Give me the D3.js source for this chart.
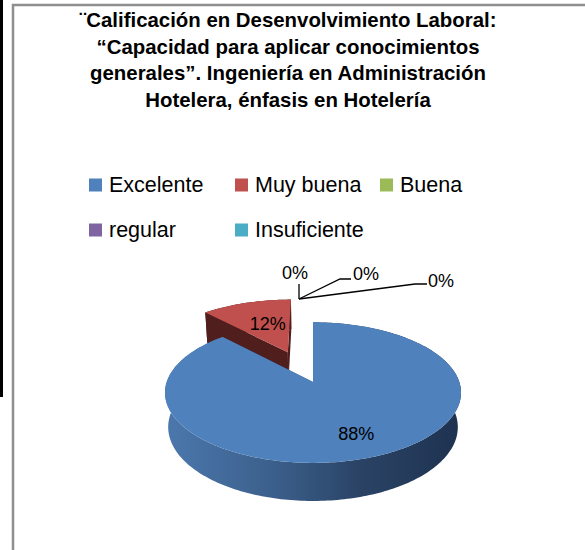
<!DOCTYPE html>
<html>
<head>
<meta charset="utf-8">
<script src="https://cdnjs.cloudflare.com/ajax/libs/d3/7.8.5/d3.min.js"></script>
<style>
  body { margin: 0; background: #fff; }
  svg { display: block; font-family: "Liberation Sans", Arial, sans-serif; }
</style>
</head>
<body>
<script>
const titleLines = [
    "¨Calificación en Desenvolvimiento Laboral:",
    "“Capacidad para aplicar conocimientos",
    "generales”. Ingeniería en Administración",
    "Hotelera, énfasis en Hotelería"
];
const categories = ["Excelente", "Muy buena", "Buena", "regular", "Insuficiente"];
const values = [88, 12, 0, 0, 0];
const topColors = ["#4F81BD", "#C0504D", "#9BBB59", "#8064A2", "#4BACC6"];
const wallColors = ["#2f4f78", "#4f1e1d", "#5d7035", "#4d3c61", "#2d6777"];
const explode = [0, 0.5, 0, 0, 0];

let width = 585, height = 550;

let svg = d3.select("body")
    .append("svg")
    .attr("width", width)
    .attr("height", height);

// frame
svg.append("rect").attr("x", 0).attr("y", 0).attr("width", 3).attr("height", 397).attr("fill", "#000");
svg.append("rect")
    .attr("x", 13).attr("y", 5).attr("width", 620).attr("height", 600)
    .attr("fill", "#fff").attr("stroke", "#8f8f8f").attr("stroke-width", 2.5);

// title
svg.append("g")
    .selectAll("text")
    .data(titleLines)
    .enter()
    .append("text")
    .attr("x", 288)
    .attr("y", (d, i) => 27 + i * 26.7)
    .attr("text-anchor", "middle")
    .attr("font-size", 20.4)
    .attr("font-weight", "bold")
    .attr("fill", "#000")
    .text(d => d);

// legend
let color = d3.scaleOrdinal().domain(categories).range(topColors);
let legendCols = [89, 235, 380], legendRows = [185, 230];
let legend = svg.append("g")
    .selectAll("g")
    .data(categories)
    .enter()
    .append("g")
    .attr("transform", (d, i) => `translate(${legendCols[i < 3 ? i : i - 3]},${legendRows[i < 3 ? 0 : 1]})`);
legend.append("rect")
    .attr("x", 0).attr("y", -6.5).attr("width", 13).attr("height", 13)
    .attr("fill", d => color(d));
legend.append("text")
    .attr("x", 20).attr("y", 7)
    .attr("font-size", 21.5)
    .attr("fill", "#000")
    .text(d => d);

// 3D pie with a small perspective projection
let cam = { cx: 313, cy: 382, f: 856, D: 5.85, elev: 28 * Math.PI / 180, depth: 0.27 };
let sinE = Math.sin(cam.elev), cosE = Math.cos(cam.elev);

function proj(X, Y, Z) {
    let yc = Y * cosE + Z * sinE;
    let zc = -Y * sinE + Z * cosE;
    let w = cam.D + zc;
    return [cam.cx + cam.f * X / w, cam.cy - cam.f * yc / w];
}

function pt(a, r, Y, off) {
    return proj(Math.sin(a) * r + off[0], Y, Math.cos(a) * r + off[1]);
}

function arcPts(a0, a1, Y, off) {
    let n = Math.max(2, Math.ceil((a1 - a0) / 0.02));
    return d3.range(n + 1).map(k => pt(a0 + (a1 - a0) * k / n, 1, Y, off));
}

let pie = d3.pie().sort(null).value(d => d);
let arcs = pie(values).map((d, i) => {
    let mid = (d.startAngle + d.endAngle) / 2;
    d.off = [Math.sin(mid) * explode[i], Math.cos(mid) * explode[i]];
    d.i = i;
    return d;
});

let line = d3.line();
let gPie = svg.append("g");
let bot = -cam.depth;

// blue wall gradient
let defs = svg.append("defs");
let grad = defs.append("linearGradient")
    .attr("id", "wall0")
    .attr("gradientUnits", "userSpaceOnUse")
    .attr("x1", cam.cx - 148).attr("x2", cam.cx + 148).attr("y1", 0).attr("y2", 0);
[[0, "#4b78ad"], [0.37, "#3b5f8b"], [0.66, "#2a4365"], [1, "#1e3250"]].forEach(s => {
    grad.append("stop").attr("offset", s[0]).attr("stop-color", s[1]);
});

// far slices first
let order = arcs.filter(d => d.endAngle > d.startAngle)
    .sort((a, b) => b.off[1] - a.off[1]);

order.forEach(d => {
    let g = gPie.append("g");
    let wallFill = d.i === 0 ? "url(#wall0)" : wallColors[d.i];
    // outer wall
    let topArc = arcPts(d.startAngle, d.endAngle, 0, d.off);
    let botArc = arcPts(d.startAngle, d.endAngle, bot, d.off).reverse();
    g.append("path").attr("d", line(topArc.concat(botArc)) + "Z").attr("fill", wallFill);
    // radial walls
    let c0 = proj(d.off[0], 0, d.off[1]), c1 = proj(d.off[0], bot, d.off[1]);
    [d.startAngle, d.endAngle].forEach(a => {
        g.append("path")
            .attr("d", line([c0, pt(a, 1, 0, d.off), pt(a, 1, bot, d.off), c1]) + "Z")
            .attr("fill", wallColors[d.i]);
    });
    // top face
    g.append("path").attr("d", line([c0].concat(topArc)) + "Z").attr("fill", topColors[d.i]);
});

// labels of non-zero slices
let labelR = [0.72, 0.55];
let total = d3.sum(values);
arcs.filter(d => d.value > 0).forEach(d => {
    let mid = (d.startAngle + d.endAngle) / 2;
    let p = pt(mid, labelR[d.i], 0, d.off);
    gPie.append("text")
        .attr("x", p[0] + (d.i === 1 ? 4 : 0)).attr("y", p[1] + 6.5)
        .attr("text-anchor", "middle")
        .attr("font-size", 18)
        .attr("fill", "#000")
        .text(Math.round(d.value / total * 100) + "%");
});

// zero slices: labels with leader lines
let anchor = [cam.cx - 14, cam.cy - 83];
let zeroLayout = [
    { elbow: [0, -15], tail: 0, tx: -4, ty: -20, anchor: "middle" },
    { elbow: [41, -20], tail: 11, tx: 54, ty: -19, anchor: "start" },
    { elbow: [116, -15], tail: 12, tx: 129, ty: -12, anchor: "start" }
];
arcs.filter(d => d.value === 0).forEach((d, k) => {
    let L = zeroLayout[k];
    let e = [anchor[0] + L.elbow[0], anchor[1] + L.elbow[1]];
    gPie.append("path")
        .attr("d", line([anchor, e, [e[0] + L.tail, e[1]]]))
        .attr("fill", "none").attr("stroke", "#000").attr("stroke-width", 1.3);
    gPie.append("text")
        .attr("x", anchor[0] + L.tx).attr("y", anchor[1] + L.ty)
        .attr("text-anchor", L.anchor)
        .attr("font-size", 18)
        .attr("fill", "#000")
        .text(Math.round(d.value / total * 100) + "%");
});
</script>
</body>
</html>
